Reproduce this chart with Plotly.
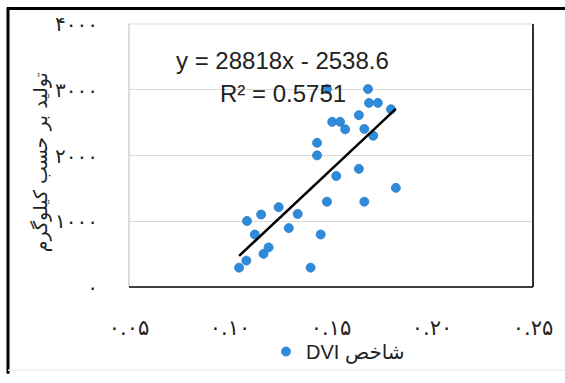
import plotly.graph_objects as go

# Data
dvi = [0.1045, 0.1081, 0.1084, 0.1123, 0.1154, 0.1166, 0.1191, 0.1241, 0.1291, 0.1335,
       0.1399, 0.1431, 0.1431, 0.1449, 0.1480, 0.1480, 0.1506, 0.1545, 0.1570, 0.1526,
       0.1638, 0.1638, 0.1665, 0.1665, 0.1683, 0.1688, 0.1732, 0.1709, 0.1797, 0.1821]
yield_kg = [294, 401, 1004, 798, 1102, 504, 602, 1214, 896, 1111,
            294, 2193, 2002, 798, 1297, 3011, 2512, 2512, 2399, 1689,
            2614, 1797, 2404, 1297, 3011, 2800, 2800, 2301, 2703, 1508]

slope = 28818
intercept = -2538.6

x_tickvals = [0.05, 0.10, 0.15, 0.20, 0.25]
x_ticktext = ["۰.۰۵", "۰.۱۰", "۰.۱۵", "۰.۲۰", "۰.۲۵"]
y_tickvals = [0, 1000, 2000, 3000, 4000]
y_ticktext = ["۰", "۱۰۰۰", "۲۰۰۰", "۳۰۰۰", "۴۰۰۰"]

series_name = "DVI شاخص"
y_title = "تولید بر حسب کیلوگرم"
eq_text = "y = 28818x - 2538.6"
r2_text = "R² = 0.5751"

W, H = 565, 383
ml, mr, mt, mb = 129, 32, 22, 88
pw, ph = W - ml - mr, H - mt - mb

def px_x(p):
    return (p - ml) / pw

def px_y(p):
    return (H - mb - p) / ph

x_line = [min(dvi), max(dvi)]
y_line = [slope * v + intercept for v in x_line]

fig = go.Figure()
fig.add_trace(go.Scatter(
    x=dvi, y=yield_kg, mode="markers", name=series_name,
    marker=dict(size=9, color="#2E8BDC", line=dict(color="#2A78C0", width=0.8)),
))
fig.add_trace(go.Scatter(
    x=x_line, y=y_line, mode="lines", showlegend=False,
    line=dict(color="black", width=2.5),
))

font_main = "DejaVu Sans"

fig.update_layout(
    width=W, height=H,
    margin=dict(l=ml, r=mr, t=mt, b=mb),
    paper_bgcolor="white", plot_bgcolor="white",
    showlegend=True,
    legend=dict(orientation="h", x=px_x(338), y=px_y(362), xanchor="center", yanchor="middle",
                font=dict(family="Liberation Sans, " + font_main, size=20, color="#222"),
                itemwidth=30, bgcolor="rgba(0,0,0,0)"),
    xaxis=dict(range=[0.05, 0.25], tickvals=x_tickvals, ticktext=x_ticktext,
               showgrid=False, zeroline=False, showline=False, ticks="",
               ticklabelstandoff=26,
               tickfont=dict(family=font_main, size=21, color="#222")),
    yaxis=dict(range=[0, 4000], tickvals=y_tickvals, ticktext=y_ticktext,
               showgrid=True, gridcolor="#D9D9D9", gridwidth=1,
               zeroline=False, showline=False, ticks="",
               ticklabelstandoff=30,
               tickfont=dict(family=font_main, size=20, color="#222")),
)

fig.add_annotation(x=0.1262, y=3452, xref="x", yref="y", text=eq_text, showarrow=False,
                   font=dict(family="Liberation Sans", size=24, color="#222"))
fig.add_annotation(x=0.1262, y=2947, xref="x", yref="y", text=r2_text, showarrow=False,
                   font=dict(family="Liberation Sans", size=24, color="#222"))
fig.add_annotation(x=px_x(27), y=px_y(166), xref="paper", yref="paper", text=y_title,
                   showarrow=False, textangle=-90,
                   font=dict(family=font_main, size=19, color="#222"))

shapes = [
    dict(type="line", xref="paper", yref="paper", x0=0, x1=1, y0=1, y1=1, line=dict(color="#D9D9D9", width=1)),
    dict(type="line", xref="paper", yref="paper", x0=0, x1=0, y0=0, y1=1, line=dict(color="#D0D0D0", width=1.5)),
    dict(type="line", xref="paper", yref="paper", x0=0, x1=1, y0=0, y1=0, line=dict(color="#404040", width=2)),
    dict(type="line", xref="paper", yref="paper", x0=1, x1=1, y0=0, y1=1, line=dict(color="#303030", width=2)),
    # outer frame (top and left)
    dict(type="line", xref="paper", yref="paper", x0=px_x(7), x1=px_x(W + 2), y0=px_y(6), y1=px_y(6), line=dict(color="black", width=3)),
    dict(type="line", xref="paper", yref="paper", x0=px_x(8), x1=px_x(8), y0=px_y(5), y1=px_y(H + 2), line=dict(color="black", width=3)),
    dict(type="line", xref="paper", yref="paper", x0=px_x(8), x1=px_x(W + 2), y0=px_y(381.5), y1=px_y(381.5), line=dict(color="#EEEEEE", width=1.5)),
]
fig.update_layout(shapes=shapes)

fig.write_html("out.html")
